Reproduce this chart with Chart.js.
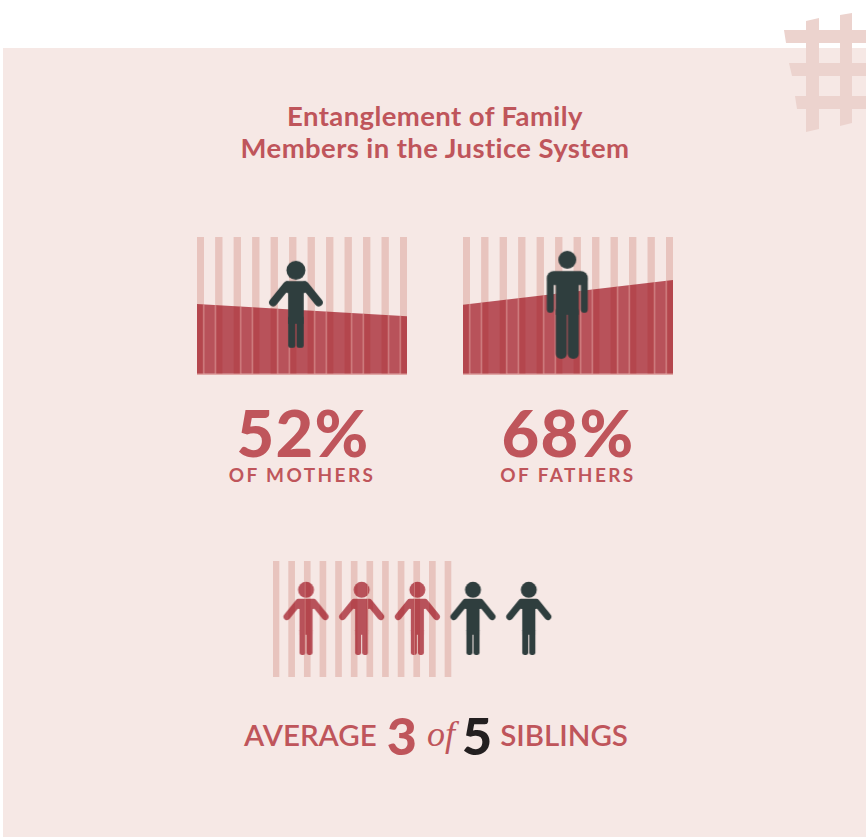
<!DOCTYPE html>
<html>
<head>
<meta charset="utf-8">
<title>Entanglement of Family Members in the Justice System</title>
<script src="https://cdn.jsdelivr.net/npm/chart.js@4"></script>
<style>
html, body { margin: 0; padding: 0; background: #fff; }
body { position: relative; width: 866px; height: 837px; overflow: hidden; font-family: Lato, sans-serif; color: #bf555b; }
#bg { position: absolute; left: 3px; top: 48px; width: 863px; height: 789px; background: #f6e8e5; }
#hash { position: absolute; left: 0; top: 0; }
canvas { position: absolute; }
.t { position: absolute; white-space: nowrap; transform: translateX(-50%); line-height: 1; }
#title1, #title2 { font-size: 27.5px; font-weight: 700; letter-spacing: 0.4px; }
.pct { font-size: 65px; font-weight: 900; letter-spacing: 1.2px; line-height: 0.8; }
.sub { font-size: 19px; font-weight: 700; letter-spacing: 2.4px; }
#avg { font-size: 29.5px; font-weight: 600; display: flex; align-items: baseline; }
#avg b { font-size: 52px; font-weight: 900; position: relative; top: 9px; }
#avg i { font-family: "Liberation Serif", serif; font-size: 36px; font-weight: 400; margin: 0 7px 0 4px; }
#avg .five { color: #231f20; margin-right: 8px; }
#avg .three { margin: 0 6px 0 10px; }
</style>
</head>
<body>
<div id="bg"></div>
<svg id="hash" width="866" height="140" fill="#ecd3ce">
  <polygon points="806,21 819,18 819,129 806,132"/>
  <polygon points="840,15 852,13 852,123 840,126"/>
  <polygon points="784,30 866,30 866,43 786,43"/>
  <polygon points="789,63 866,63 866,76 792,76"/>
  <polygon points="795,96 866,96 866,109 797,109"/>
</svg>

<div class="t" id="title1" style="left:435px;top:102px">Entanglement of Family</div>
<div class="t" id="title2" style="left:435px;top:134px">Members in the Justice System</div>

<canvas id="mothers" width="210" height="138" style="left:197px;top:237px"></canvas>
<canvas id="fathers" width="210" height="138" style="left:463px;top:237px"></canvas>

<div class="t pct" style="left:303px;top:406px">52%</div>
<div class="t sub" style="left:302px;top:465px">OF MOTHERS</div>
<div class="t pct" style="left:568px;top:406px">68%</div>
<div class="t sub" style="left:568px;top:465px">OF FATHERS</div>

<canvas id="siblings" width="283" height="116" style="left:273px;top:561px"></canvas>

<div class="t" id="avg" style="left:436px;top:700px"><span>AVERAGE</span><b class="three">3</b><i>of</i><b class="five">5</b><span>SIBLINGS</span></div>

<script>
// stripes behind every panel
var stripes = [0, 1, 2, 3, 4, 5, 6, 7, 8, 9, 10, 11];
var stripeHeights = [100, 100, 100, 100, 100, 100, 100, 100, 100, 100, 100, 100];
// thin light seams inside the filled area
var seams = [0.18, 0.82, 2.18, 2.82, 4.18, 4.82, 6.18, 6.82, 8.18, 8.82, 10.18, 10.82];
// level of the filled area at its left and right edge
var mothersLevel = [51, 42];
var fathersLevel = [50.5, 68.5];
// siblings
var siblingsTotal = [1, 2, 3, 4, 5];
var siblingsInvolved = 3;

var STRIPE = "#e8c4be";
var OVERLAY = "rgba(155,11,23,0.68)";
var SEAM = "rgba(238,190,186,0.42)";
var DARK = "#2f3e3e";

// person icons, used as pointStyle
function iconCanvas(w, h, color, draw, seamAt) {
  var c = document.createElement("canvas");
  c.width = w;
  c.height = h;
  var g = c.getContext("2d");
  g.translate(w / 2, 0);
  g.fillStyle = "#000";
  g.strokeStyle = "#000";
  g.lineCap = "round";
  g.lineJoin = "round";
  draw(g);
  // flatten to one colour so the overlaps do not add up
  g.setTransform(1, 0, 0, 1, 0, 0);
  g.globalCompositeOperation = "source-in";
  g.fillStyle = color;
  g.fillRect(0, 0, w, h);
  if (seamAt !== undefined) {
    g.globalCompositeOperation = "source-atop";
    g.fillStyle = SEAM;
    g.fillRect(Math.round(w / 2 + seamAt), 0, 1, h);
  }
  return c;
}

function roundBox(g, x, y, w, h, r) {
  g.beginPath();
  g.roundRect(x, y, w, h, r);
  g.fill();
}

function armsOut(color, s, seamAt) {
  return iconCanvas(Math.round(58 * s), Math.round(90 * s), color, function (g) {
    g.scale(s, s);
    g.translate(0, 1);
    g.beginPath();
    g.arc(0, 9.5, 9.5, 0, Math.PI * 2);
    g.fill();
    roundBox(g, -11.5, 20.2, 23, 12, 3.5);
    g.fillRect(-7.8, 22, 15.6, 41);
    roundBox(g, -7.8, 55, 7.2, 32, 2.5);
    roundBox(g, 0.6, 55, 7.2, 32, 2.5);
    g.lineWidth = 8.2;
    g.beginPath();
    g.moveTo(-9, 24.5);
    g.lineTo(-22.7, 41.5);
    g.moveTo(9, 24.5);
    g.lineTo(22.7, 41.5);
    g.stroke();
  }, seamAt);
}

function armsDown(color) {
  return iconCanvas(44, 110, color, function (g) {
    g.translate(0, 1);
    g.beginPath();
    g.arc(0, 9, 9, 0, Math.PI * 2);
    g.fill();
    roundBox(g, -20.5, 20.3, 41, 14, 7);
    roundBox(g, -20.5, 26, 7, 36, 3.5);
    roundBox(g, 13.5, 26, 7, 36, 3.5);
    g.fillRect(-11.5, 22, 23, 42);
    roundBox(g, -11.5, 55, 11, 53, 5);
    roundBox(g, 0.5, 55, 11, 53, 5);
  });
}

// clips the seam bars to the area of the line dataset
var seamClip = {
  id: "seamClip",
  beforeDatasetDraw: function (chart, args) {
    if (!args.meta._dataset.isSeam) return;
    var pts = chart.getDatasetMeta(chart.data.datasets.length - 1).data;
    var bottom = chart.chartArea.bottom;
    var c = chart.ctx;
    c.save();
    c.beginPath();
    c.moveTo(pts[0].x, pts[0].y);
    c.lineTo(pts[1].x, pts[1].y);
    c.lineTo(pts[1].x, bottom);
    c.lineTo(pts[0].x, bottom);
    c.closePath();
    c.clip();
  },
  afterDatasetDraw: function (chart, args) {
    if (args.meta._dataset.isSeam) chart.ctx.restore();
  }
};

var baseOptions = function (xMin, xMax, yMin) {
  return {
    responsive: false,
    animation: false,
    layout: { padding: 0, autoPadding: false },
    plugins: { legend: { display: false }, tooltip: { enabled: false } },
    scales: {
      x: { type: "linear", display: false, offset: false, min: xMin, max: xMax },
      y: { display: false, min: yMin, max: 100 }
    }
  };
};

function panel(id, level, personX, icon) {
  var xMin = -0.18, xMax = 11.18;
  new Chart(document.getElementById(id), {
    plugins: [seamClip],
    data: {
      datasets: [
        { // person
          type: "scatter", order: 0,
          data: [{ x: personX, y: 50.4 }],
          pointStyle: icon, pointRadius: 10, clip: false
        },
        { // base line
          type: "line", order: 1,
          data: [{ x: xMin, y: -0.5 }, { x: xMax, y: -0.5 }],
          borderColor: "#dc9a98", borderWidth: 1, pointRadius: 0
        },
        { // seams
          type: "bar", order: 2, isSeam: true, grouped: false,
          data: seams.map(function (s) { return { x: s, y: 100 }; }),
          backgroundColor: SEAM, barThickness: 1
        },
        { // stripes
          type: "bar", order: 4, grouped: false,
          data: stripes.map(function (s, i) { return { x: s, y: stripeHeights[i] }; }),
          backgroundColor: STRIPE, barThickness: 6.7
        },
        { // filled area
          type: "line", order: 3,
          data: [{ x: xMin, y: level[0] }, { x: xMax, y: level[1] }],
          fill: "origin", backgroundColor: OVERLAY, borderWidth: 0, pointRadius: 0
        }
      ]
    },
    options: baseOptions(xMin, xMax, -1)
  });
}

panel("mothers", mothersLevel, 5.17, armsOut(DARK, 1));
panel("fathers", fathersLevel, 5.46, armsDown(DARK));

var personSeams = [-2, 5, -4];
var darkPerson = armsOut(DARK, 0.84);
var personX = [1.92, 5.48, 9.04, 12.6, 16.17];

new Chart(document.getElementById("siblings"), {
  data: {
    datasets: [
      {
        type: "scatter", order: 0,
        data: siblingsTotal.map(function (n, i) { return { x: personX[i], y: 50 }; }),
        pointStyle: siblingsTotal.map(function (n, i) {
          return n <= siblingsInvolved ? armsOut(OVERLAY, 0.84, personSeams[i]) : darkPerson;
        }),
        pointRadius: 10, clip: false
      },
      {
        type: "bar", order: 1, grouped: false,
        data: stripes.map(function (s, i) { return { x: s, y: stripeHeights[i] }; }),
        backgroundColor: STRIPE, barThickness: 6
      }
    ]
  },
  options: baseOptions(-0.192, 17.91, 0)
});
</script>
</body>
</html>
